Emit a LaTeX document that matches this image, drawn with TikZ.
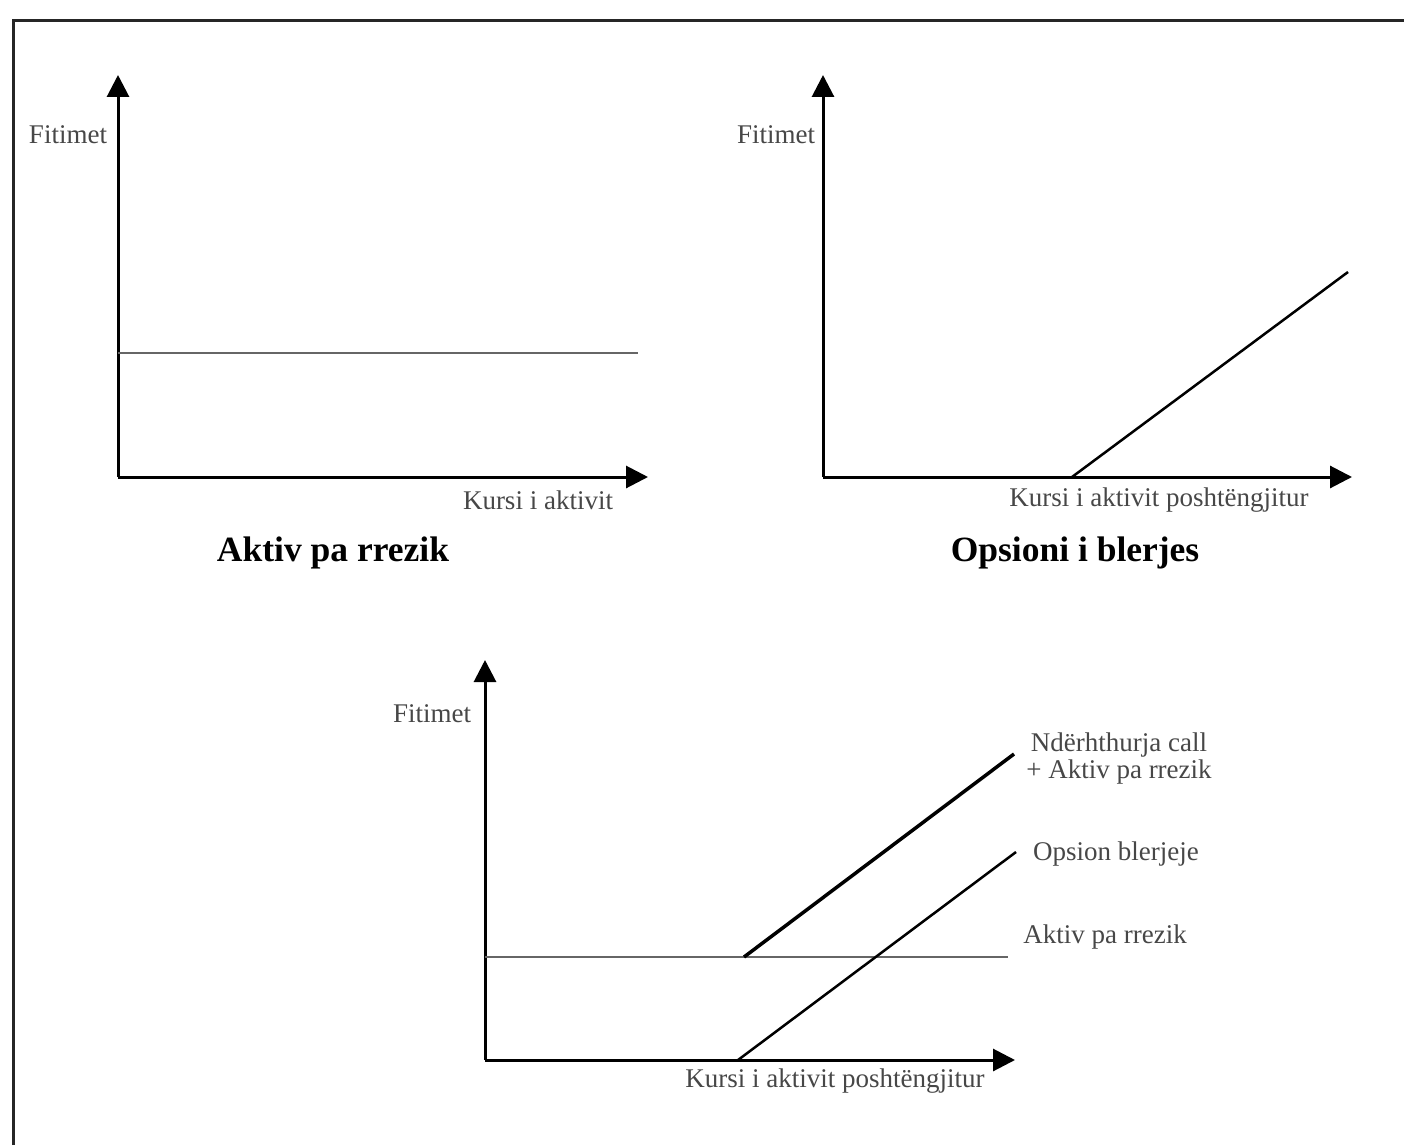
\documentclass[tikz,border=0pt]{standalone}
\usepackage{fontspec}
\setmainfont{Liberation Serif}
\usetikzlibrary{arrows.meta}
\begin{document}
\begin{tikzpicture}[x=1pt,y=-1pt,
  axis/.style={line width=3pt, -{Triangle[length=22pt,width=22pt]}},
  lbl/.style={text=black!72, font=\fontsize{27}{27}\selectfont, inner sep=0pt},
  ttl/.style={font=\bfseries\fontsize{35.5}{40}\selectfont, inner sep=0pt},
  flat/.style={line width=2pt, black!60},
  payoff/.style={line width=2.5pt},
  combo/.style={line width=3.5pt},
]
\useasboundingbox (0,0) rectangle (1404,1145);
% outer frame (left and top edges)
\draw[line width=3pt, black!85] (13,1145) -- (13,21) -- (1404,21);

% ---- risk-free asset ----
\coordinate (o1) at (118,477);
\coordinate (y1) at (118,75);
\coordinate (x1) at (648,477);
\coordinate (f1a) at (118,353);
\coordinate (f1b) at (638,353);
\draw[axis] (o1) -- (y1);
\draw[axis] (o1) -- (x1);
\draw[flat] (f1a) -- (f1b);
\node[lbl] (fit1) at (68,135) {Fitimet};
\node[lbl] (kur1) at (538,500) {Kursi i aktivit};
\node[ttl] (t1) at (333,553) {Aktiv pa rrezik};

% ---- call option ----
\coordinate (o2) at (823,477);
\coordinate (y2) at (823,75);
\coordinate (x2) at (1352,477);
\coordinate (k2) at (1072,477);
\coordinate (e2) at (1348,272);
\draw[axis] (o2) -- (y2);
\draw[axis] (o2) -- (x2);
\draw[payoff] (k2) -- (e2);
\node[lbl] (fit2) at (776,135) {Fitimet};
\node[lbl] (kur2) at (1159,500) {Kursi i aktivit poshtëngjitur};
\node[ttl] (t2) at (1075,553) {Opsioni i blerjes};

% ---- combination ----
\coordinate (o3) at (485,1060);
\coordinate (y3) at (485,660);
\coordinate (x3) at (1015,1060);
\coordinate (f3a) at (485,957);
\coordinate (f3b) at (1008,957);
\coordinate (c3a) at (744,957);
\coordinate (c3b) at (1014,754);
\coordinate (k3) at (738,1060);
\coordinate (e3) at (1016,852);
\draw[axis] (o3) -- (y3);
\draw[axis] (o3) -- (x3);
\draw[flat] (f3a) -- (f3b);
\draw[payoff] (k3) -- (e3);
\draw[combo] (c3a) -- (c3b);
\node[lbl] (fit3) at (432,714) {Fitimet};
\node[lbl, align=center] (nd3) at (1119,758) {Ndërhthurja call\\+ Aktiv pa rrezik};
\node[lbl] (op3) at (1116,854) {Opsion blerjeje};
\node[lbl] (ak3) at (1105,937) {Aktiv pa rrezik};
\node[lbl] (kur3) at (835,1081) {Kursi i aktivit poshtëngjitur};
\end{tikzpicture}
\end{document}
